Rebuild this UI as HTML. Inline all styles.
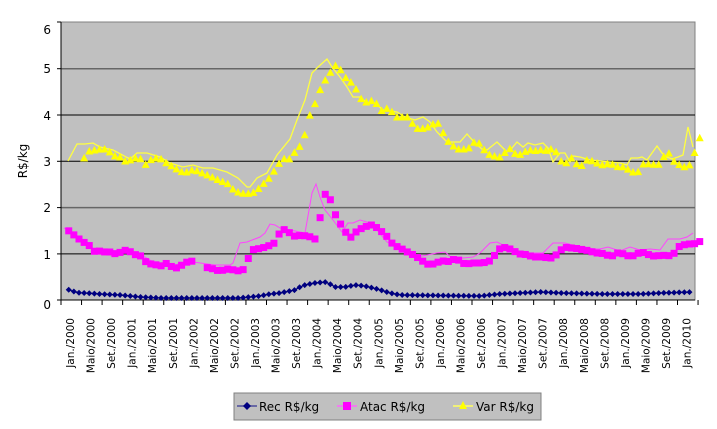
<!DOCTYPE html>
<html><head><meta charset="utf-8"><style>
html,body{margin:0;padding:0;background:#fff;}
svg{display:block;font-family:"DejaVu Sans","Liberation Sans",sans-serif;}
</style></head><body>
<svg id="c" width="717" height="429" viewBox="0 0 717 429" xmlns="http://www.w3.org/2000/svg">
<rect x="61" y="22" width="634" height="278" fill="#c0c0c0" stroke="#808080" stroke-width="1"/>
<g stroke="#000" stroke-width="1">
<line x1="61" y1="68.7" x2="695" y2="68.7" stroke="#666" stroke-width="1.5"/>
<line x1="61" y1="115" x2="695" y2="115"/>
<line x1="61" y1="161.3" x2="695" y2="161.3"/>
<line x1="61" y1="207.6" x2="695" y2="207.6" stroke="#666" stroke-width="1.5"/>
<line x1="61" y1="253.9" x2="695" y2="253.9"/>
<line x1="61" y1="22" x2="61" y2="300"/>
<line x1="61" y1="300" x2="695" y2="300"/>
</g>
<g id="ticks" stroke="#000" stroke-width="1"></g>
<g font-size="12" fill="#000" text-anchor="end">
<text x="51" y="34">6</text><text x="51" y="73">5</text><text x="51" y="120">4</text>
<text x="51" y="166">3</text><text x="51" y="212">2</text><text x="51" y="259">1</text><text x="51" y="309">0</text>
</g>
<text transform="translate(27,161) rotate(-90)" font-size="12" text-anchor="middle">R$/kg</text>
<g id="xl" font-size="10.5" fill="#000"></g>
<g id="series"></g>
<rect x="234" y="393" width="307" height="27" fill="#c0c0c0" stroke="#808080" stroke-width="1"/>
<line x1="237" y1="406" x2="257" y2="406" stroke="#4a4a9a" stroke-width="1.5"/>
<path d="M247 402 L251 406 L247 410 L243 406Z" fill="#000080"/>
<text x="259" y="411" font-size="12">Rec R$/kg</text>
<line x1="337" y1="406" x2="357" y2="406" stroke="#ff66ff" stroke-width="1.5"/>
<rect x="343" y="402" width="8" height="8" fill="#ff00ff"/>
<text x="360" y="411" font-size="12">Atac R$/kg</text>
<line x1="453" y1="406" x2="473" y2="406" stroke="#ffff60" stroke-width="1.5"/>
<path d="M463 401 L467 409 L459 409Z" fill="#ffff00"/>
<text x="476" y="411" font-size="12">Var R$/kg</text>
</svg>
<script>
var NS="http://www.w3.org/2000/svg";
function el(t,a,p){var e=document.createElementNS(NS,t);for(var k in a)e.setAttribute(k,a[k]);p.appendChild(e);return e;}
var tk=document.getElementById("ticks");
for(var i=0;i<=31;i++){var x=61+20.55*i;el("line",{x1:x,y1:300,x2:x,y2:305},tk);}
[22,68.7,115,161.3,207.6,253.9,300].forEach(function(y){el("line",{x1:57,y1:y,x2:61,y2:y},tk);});
var mo=["Jan.","Maio","Set."];var xl=document.getElementById("xl");
for(var k=0;k<31;k++){var yr=2000+Math.floor(k/3);var lab=mo[k%3]+"/"+yr;var x=74+20.55*k;
var t=el("text",{transform:"translate("+x+",318) rotate(-90)","text-anchor":"end"},xl);t.textContent=lab;}
function interp(P,x){if(x<P[0][0]||x>P[P.length-1][0])return null;for(var i=1;i<P.length;i++){if(x<=P[i][0]){var a=P[i-1],b=P[i];var f=(x-a[0])/((b[0]-a[0])||1);return a[1]+f*(b[1]-a[1]);}}return P[P.length-1][1];}
function samp(P){var o=[];for(var m=0;m<126;m++){var x=63.6+5.13*m;var y=interp(P,x);if(y!==null)o.push([x,y]);}return o;}
var S=document.getElementById("series");
function line(P,c,w){el("polyline",{points:P.map(function(p){return p[0].toFixed(1)+","+p[1].toFixed(1)}).join(" "),fill:"none",stroke:c,"stroke-width":w},S);}
var varM=[[79,166],[84,158],[90,150],[95,150],[100,149],[105,149],[110,152],[115,156],[120,157],[125,161],[130,160],[135,158],[140,158],[145,165],[150,160],[155,158],[160,158],[165,162],[170,165],[175,168],[180,171],[185,173],[190,170],[195,170],[200,172],[205,174],[210,176],[215,178],[220,181],[225,182],[230,185],[235,192],[240,192],[245,194],[255,192],[262,185],[270,177],[280,162],[285,158],[290,159],[296,150],[302,144],[307,127],[312,106],[317,102],[322,82],[327,79],[332,69],[337,64],[342,72],[348,81],[353,83],[358,93],[363,102],[368,102],[373,100],[378,105],[384,114],[389,104],[394,117],[399,117],[404,117],[409,117],[414,126],[420,130],[425,127],[430,127],[435,122],[440,124],[446,140],[451,143],[456,149],[461,149],[466,149],[471,147],[476,139],[482,147],[487,153],[492,156],[497,156],[502,158],[508,146],[513,153],[518,154],[523,155],[528,147],[533,153],[538,148],[543,151],[548,150],[554,148],[559,157],[564,166],[569,159],[574,157],[579,170],[585,160],[590,160],[595,162],[601,165],[606,164],[611,163],[616,167],[621,166],[626,168],[631,171],[637,174],[642,164],[647,164],[652,163],[657,167],[662,159],[668,151],[672,160],[677,163],[683,167],[688,166],[693,162],[698,132],[704,152]];
var varL=[[68,161],[77,144],[85,144],[93,143],[100,147],[113,150],[130,159],[137,153],[147,153],[160,157],[170,163],[183,167],[193,165],[203,168],[213,168],[227,172],[238,178],[247,187],[250,187],[257,178],[267,173],[277,155],[290,139],[297,120],[305,100],[312,73],[318,67],[327,59],[332,67],[340,77],[347,87],[353,97],[360,97],[367,103],[375,103],[383,110],[397,112],[405,117],[415,120],[423,117],[430,122],[437,132],[447,142],[460,142],[467,134],[475,143],[483,150],[487,150],[497,142],[503,148],[507,152],[512,148],[517,142],[523,147],[528,143],[535,145],[543,143],[548,148],[553,162],[560,153],[565,153],[570,162],[573,156],[580,157],[590,160],[600,161],[610,162],[620,163],[627,165],[631,158],[638,158],[642,157],[647,160],[657,146],[662,153],[667,157],[672,159],[678,157],[683,155],[688,127],[693,147]];
var atM=[[64,228],[69,231],[74,235],[79,239],[85,243],[90,246],[95,252],[100,251],[105,252],[110,252],[116,254],[121,252],[126,250],[131,252],[136,255],[141,256],[146,262],[151,264],[157,265],[162,266],[167,263],[172,267],[177,268],[182,265],[187,262],[193,261],[208,268],[214,269],[219,271],[224,270],[229,269],[234,270],[239,271],[245,269],[250,253],[255,248],[260,249],[265,247],[271,245],[276,242],[281,229],[286,230],[291,234],[296,237],[301,235],[306,236],[311,237],[317,240],[322,204],[327,189],[332,205],[337,219],[342,226],[348,236],[353,238],[358,228],[363,229],[368,225],[374,225],[379,230],[384,233],[389,239],[394,246],[399,247],[405,251],[410,253],[415,256],[420,259],[425,263],[430,265],[436,263],[441,261],[446,261],[451,262],[456,257],[461,263],[467,264],[472,263],[477,263],[482,263],[487,262],[492,260],[497,251],[502,247],[507,248],[513,250],[518,254],[523,254],[528,255],[533,257],[538,257],[543,257],[548,258],[553,258],[559,252],[564,247],[569,248],[574,248],[579,249],[585,250],[590,251],[595,253],[600,253],[605,254],[611,257],[616,253],[621,253],[626,255],[631,257],[636,254],[642,252],[647,254],[652,256],[657,256],[662,255],[667,256],[673,255],[678,247],[683,245],[688,244],[693,244],[698,243],[704,238]];
var atL=[[64,228],[69,231],[79,239],[95,251],[116,253],[126,249],[141,255],[157,264],[172,266],[187,261],[193,262],[215,265],[230,265],[233,263],[240,243],[247,242],[260,237],[265,233],[270,224],[275,225],[280,228],[290,230],[305,233],[312,193],[316,184],[320,197],[325,210],[333,220],[342,232],[348,223],[353,223],[360,220],[367,222],[377,230],[387,242],[397,247],[407,252],[417,257],[427,255],[437,253],[445,252],[452,258],[463,258],[473,257],[480,253],[490,243],[497,242],[507,247],[517,252],[530,253],[543,253],[553,243],[565,243],[580,247],[595,249],[600,249],[608,247],[620,251],[630,247],[640,250],[650,249],[660,250],[668,239],[680,239],[687,237],[693,233]];
var rec=[[64,289],[70,290],[75,292],[80,293],[85,293],[100,294],[120,295],[130,296],[140,297],[160,298],[200,298],[240,298],[250,297],[260,296],[270,294],[280,293],[290,291],[295,290],[300,287],[305,285],[315,283],[325,282],[330,284],[335,287],[345,287],[355,285],[365,286],[377,289],[390,293],[400,295],[480,296],[490,295],[500,294],[520,293],[540,292],[560,293],[600,294],[640,294],[660,293],[693,292]];
line(varL,"#ffff40",1.3);
line(atL,"#ff44ff",1);
var vm=samp(varM);vm.forEach(function(p){el("path",{d:"M"+p[0]+" "+(p[1]-4)+"l4 7.5h-8z",fill:"#ffff00"},S);});
var am=samp(atM);am=am.filter(function(p){return !(p[0]>195&&p[0]<206);});
am.forEach(function(p){el("rect",{x:p[0]-3.5,y:p[1]-3.5,width:7,height:7,fill:"#ff00ff"},S);});
var rm=samp(rec).filter(function(p){return p[0]<=696;});
line(rm,"#000080",1.2);
rm.forEach(function(p){el("path",{d:"M"+p[0]+" "+(p[1]-3)+"l3 3l-3 3l-3 -3z",fill:"#000080"},S);});
</script>
</body></html>
